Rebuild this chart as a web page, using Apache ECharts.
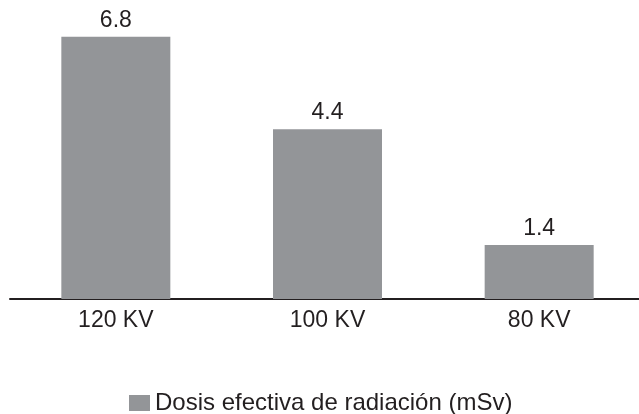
<!DOCTYPE html>
<html>
<head>
<meta charset="utf-8">
<script src="https://cdn.jsdelivr.net/npm/echarts@6/dist/echarts.min.js"></script>
<style>
  html, body { margin: 0; padding: 0; background: #fff; overflow: hidden; }
  /* un poco más ancho que la ventana: el eje sale por la derecha */
  #chart { width: 645px; height: 414px; }
</style>
</head>
<body>
<div id="chart"></div>
<script>
// datos del gráfico
const categories = ['120 KV', '100 KV', '80 KV']
const doseValues = [6.8, 4.4, 1.4]
const seriesName = 'Dosis efectiva de radiación (mSv)'

const textColor = '#231f20'
const barColor = '#939598'
const font = 'Liberation Sans, Arial, sans-serif'

const chart = echarts.init(document.getElementById('chart'))
chart.setOption({
  animation: false,
  grid: {
    left: 10,
    right: 0,
    top: 29,
    bottom: 115,
    containLabel: false
  },
  legend: {
    data: [seriesName],
    left: 124,
    top: 386,
    icon: 'rect',
    itemWidth: 21,
    itemHeight: 16,
    itemGap: 0,
    textStyle: { color: textColor, fontSize: 24, fontFamily: font }
  },
  xAxis: {
    type: 'category',
    data: categories,
    axisLine: { show: true, lineStyle: { color: textColor, width: 2 } },
    axisTick: { show: false },
    axisLabel: { color: textColor, fontSize: 23, fontFamily: font, margin: 10 }
  },
  yAxis: {
    type: 'value',
    min: 0,
    max: 7,
    show: false,
    splitLine: { show: false }
  },
  series: [
    {
      name: seriesName,
      type: 'bar',
      data: doseValues,
      barWidth: 109,
      itemStyle: { color: barColor },
      label: {
        show: true,
        position: 'top',
        distance: 5,
        color: textColor,
        fontSize: 23,
        fontFamily: font,
        formatter: p => p.value.toFixed(1)
      }
    }
  ]
})
</script>
</body>
</html>
